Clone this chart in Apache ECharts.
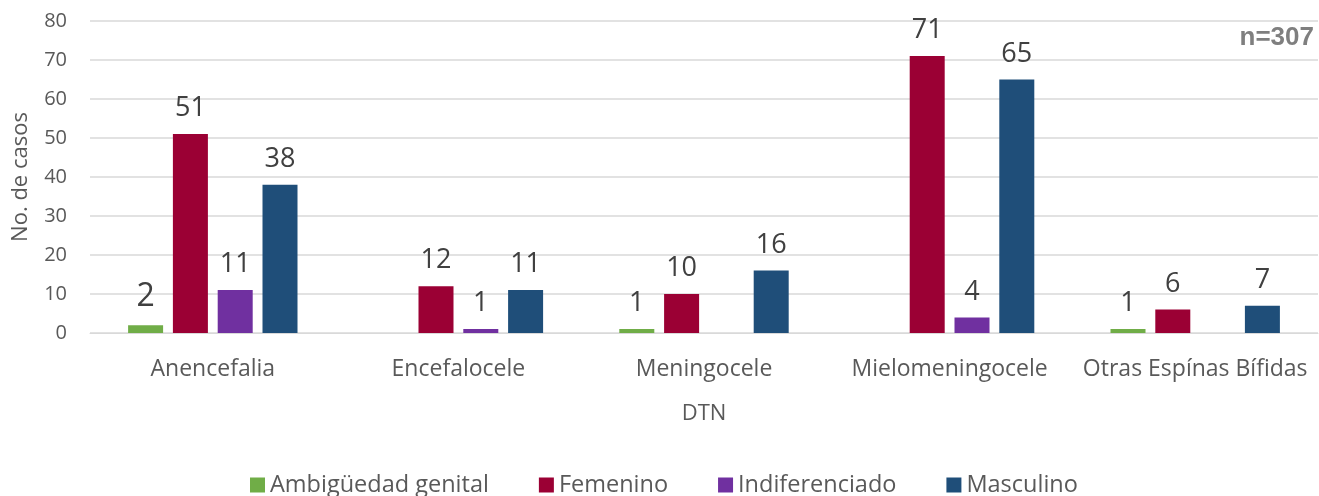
<!DOCTYPE html>
<html>
<head>
<meta charset="utf-8">
<script src="https://cdn.jsdelivr.net/npm/echarts@6/dist/echarts.min.js"></script>
<style>
  html, body { margin: 0; padding: 0; background: #fff; }
  #chart { width: 1319px; height: 496px; }
</style>
</head>
<body>
<div id="chart"></div>
<script>
// categories and values
var categories = ["Anencefalia", "Encefalocele", "Meningocele", "Mielomeningocele", "Otras Espínas Bífidas"];
var ambiguedad = [2, 0, 1, 0, 1];
var femenino = [51, 12, 10, 71, 6];
var indiferenciado = [11, 1, 0, 4, 0];
var masculino = [38, 11, 16, 65, 7];
var yTicks = [0, 10, 20, 30, 40, 50, 60, 70, 80];

var font = "'Open Sans', 'Noto Sans', sans-serif";

function mkSeries(name, data, color) {
  return {
    name: name,
    type: "bar",
    data: data,
    barWidth: 35,
    barGap: "28%",
    itemStyle: { color: color },
    label: {
      show: true,
      position: "top",
      distance: 12,
      color: "#404040",
      fontSize: 27,
      fontFamily: font,
      formatter: function (p) {
        if (!p.value) return ""; // zero bars have no label
        // the first green label is drawn bigger in the original
        if (p.seriesIndex === 0 && p.dataIndex === 0) return "{big|" + p.value + "}";
        return p.value;
      },
      rich: { big: { fontSize: 32, color: "#404040", fontFamily: font } }
    }
  };
}

var chart = echarts.init(document.getElementById("chart"));
chart.setOption({
  animation: false,
  backgroundColor: "#fff",
  grid: { left: 90, right: 1, top: 21, bottom: 163, outerBoundsMode: "none" },
  title: {
    text: "n=307",
    right: 0,
    top: 20,
    textStyle: { color: "#7f7f7f", fontSize: 26, fontWeight: "bold", fontFamily: "'Liberation Sans', Arial, sans-serif" }
  },
  legend: {
    top: 468,
    left: 245,
    itemWidth: 15,
    itemHeight: 15,
    itemGap: 50,
    icon: "rect",
    textStyle: { color: "#595959", fontSize: 23.5, fontFamily: font }
  },
  xAxis: {
    type: "category",
    data: categories,
    name: "DTN",
    nameLocation: "middle",
    nameGap: 70,
    nameTextStyle: { color: "#595959", fontSize: 22, fontFamily: font },
    axisLine: { lineStyle: { color: "#d9d9d9" } },
    axisTick: { show: false },
    axisLabel: { color: "#595959", fontSize: 23, fontFamily: font, margin: 25, interval: 0 }
  },
  yAxis: {
    type: "value",
    min: yTicks[0],
    max: yTicks[yTicks.length - 1],
    interval: 10,
    name: "No. de casos",
    nameLocation: "middle",
    nameGap: 58,
    nameTextStyle: { color: "#595959", fontSize: 22, fontFamily: font },
    axisLabel: { color: "#595959", fontSize: 20, fontFamily: font, margin: 23 },
    splitLine: { lineStyle: { color: "#d9d9d9", width: 1.5 } }
  },
  series: [
    mkSeries("Ambigüedad genital", ambiguedad, "#70ad47"),
    mkSeries("Femenino", femenino, "#9b0034"),
    mkSeries("Indiferenciado", indiferenciado, "#7030a0"),
    mkSeries("Masculino", masculino, "#1f4e79")
  ]
});
</script>
</body>
</html>
